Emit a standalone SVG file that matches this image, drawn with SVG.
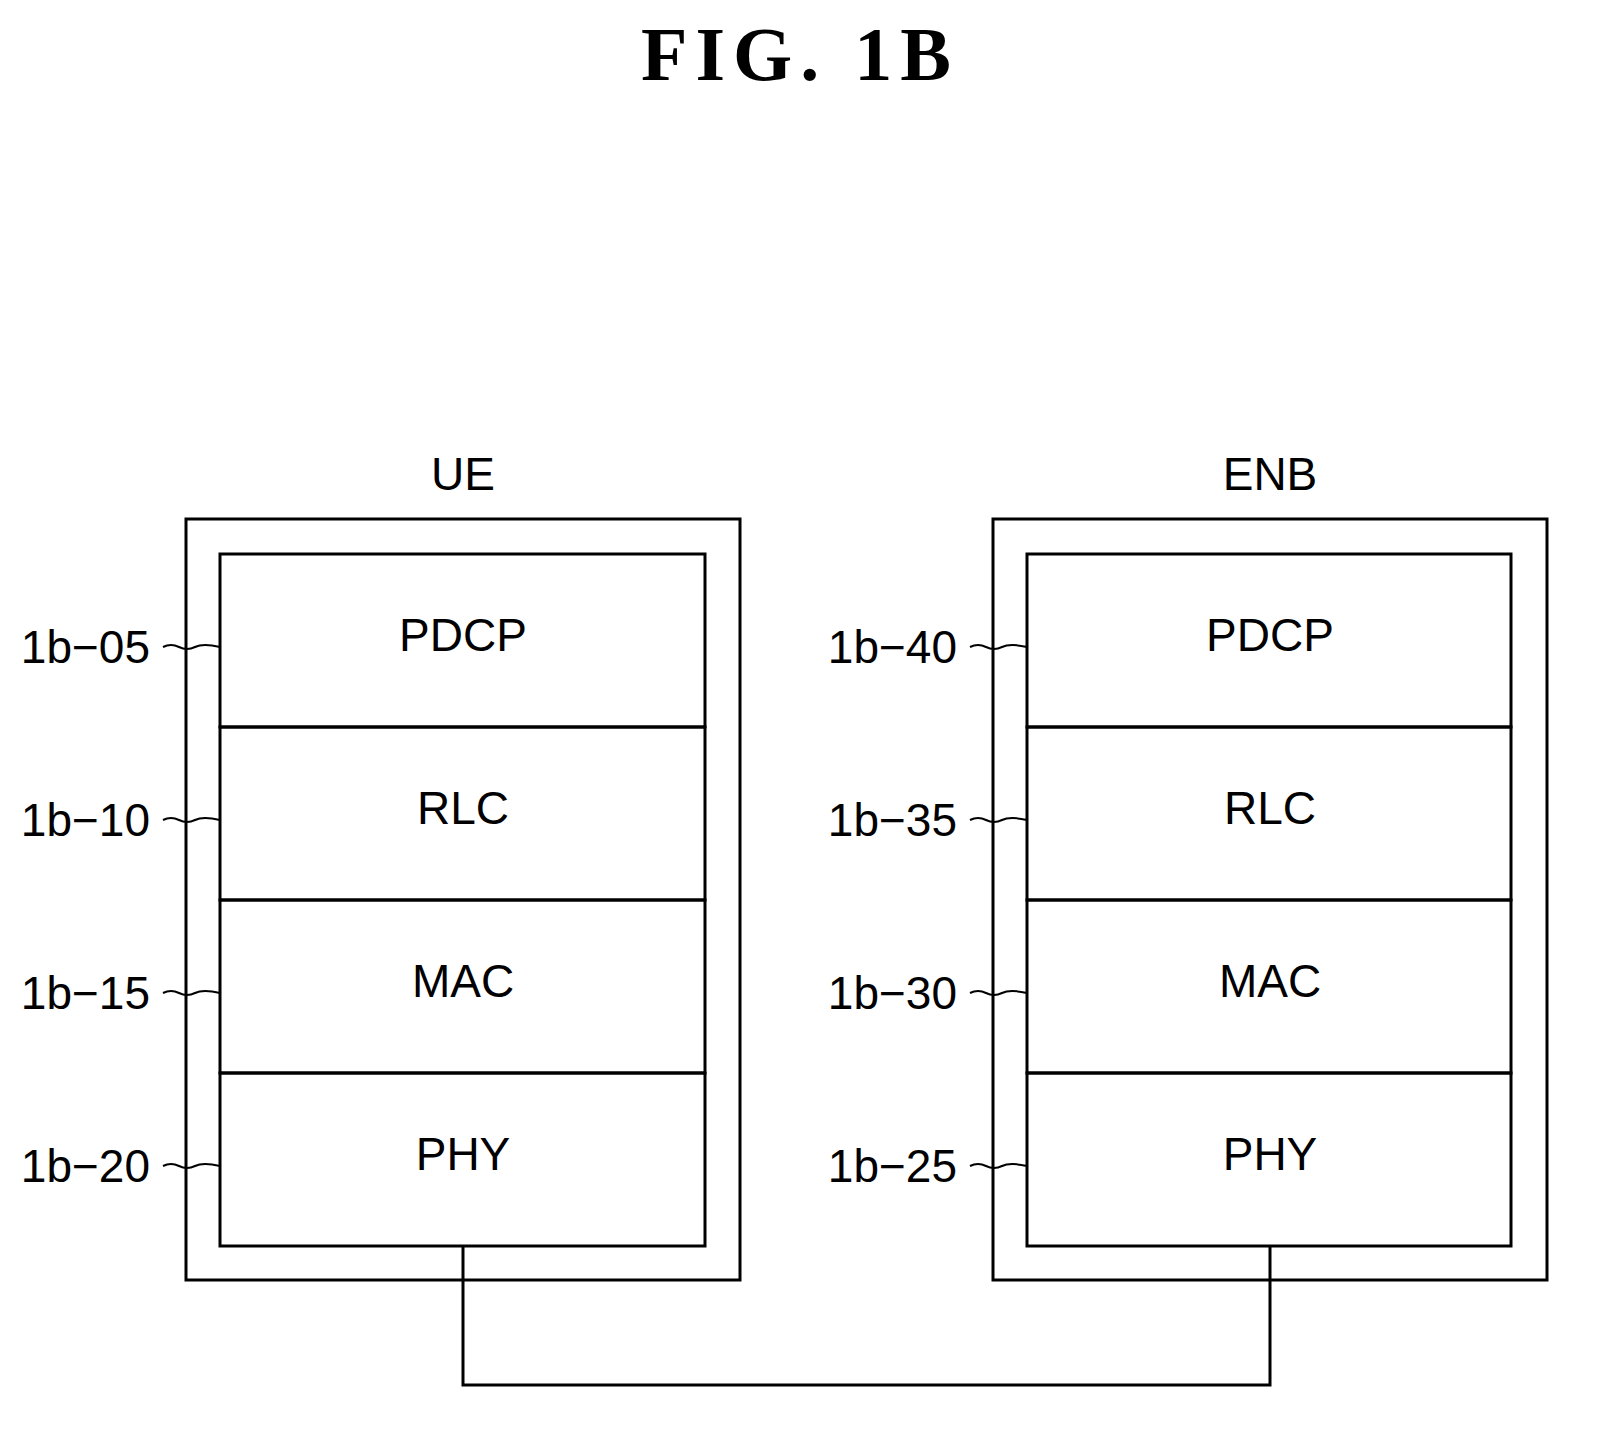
<svg xmlns="http://www.w3.org/2000/svg" width="1606" height="1440" viewBox="0 0 1606 1440">
<style>
.b{fill:none;stroke:#000;stroke-width:3}
.t{font-family:"Liberation Sans",Arial,sans-serif;font-size:46px;text-anchor:middle}
.r{font-family:"Liberation Sans",Arial,sans-serif;font-size:46px;text-anchor:end}
.l{fill:none;stroke:#000;stroke-width:2}
</style>
<rect width="1606" height="1440" fill="#fff"/>
<text x="800" y="80" font-family="Liberation Serif,serif" font-size="76" font-weight="bold" text-anchor="middle" letter-spacing="8">FIG.  1B</text>
<g id="UE">
<text class="t" x="463" y="490">UE</text>
<rect class="b" x="186" y="519" width="554" height="761"/>
</g>
<g id="ue-pdcp"><rect class="b" x="220" y="554" width="485" height="173"/><text class="t" x="463" y="651">PDCP</text><text class="r" x="150" y="663">1b−05</text><path class="l" d="M163 647 q8-4 16 0 t16 0 t25 0"/></g>
<g id="ue-rlc"><rect class="b" x="220" y="727" width="485" height="173"/><text class="t" x="463" y="824">RLC</text><text class="r" x="150" y="836">1b−10</text><path class="l" d="M163 820 q8-4 16 0 t16 0 t25 0"/></g>
<g id="ue-mac"><rect class="b" x="220" y="900" width="485" height="173"/><text class="t" x="463" y="997">MAC</text><text class="r" x="150" y="1009">1b−15</text><path class="l" d="M163 993 q8-4 16 0 t16 0 t25 0"/></g>
<g id="ue-phy"><rect class="b" x="220" y="1073" width="485" height="173"/><text class="t" x="463" y="1170">PHY</text><text class="r" x="150" y="1182">1b−20</text><path class="l" d="M163 1166 q8-4 16 0 t16 0 t25 0"/></g>
<g id="ENB">
<text class="t" x="1270" y="490">ENB</text>
<rect class="b" x="993" y="519" width="554" height="761"/>
</g>
<g id="enb-pdcp"><rect class="b" x="1027" y="554" width="484" height="173"/><text class="t" x="1270" y="651">PDCP</text><text class="r" x="957" y="663">1b−40</text><path class="l" d="M970 647 q8-4 16 0 t16 0 t25 0"/></g>
<g id="enb-rlc"><rect class="b" x="1027" y="727" width="484" height="173"/><text class="t" x="1270" y="824">RLC</text><text class="r" x="957" y="836">1b−35</text><path class="l" d="M970 820 q8-4 16 0 t16 0 t25 0"/></g>
<g id="enb-mac"><rect class="b" x="1027" y="900" width="484" height="173"/><text class="t" x="1270" y="997">MAC</text><text class="r" x="957" y="1009">1b−30</text><path class="l" d="M970 993 q8-4 16 0 t16 0 t25 0"/></g>
<g id="enb-phy"><rect class="b" x="1027" y="1073" width="484" height="173"/><text class="t" x="1270" y="1170">PHY</text><text class="r" x="957" y="1182">1b−25</text><path class="l" d="M970 1166 q8-4 16 0 t16 0 t25 0"/></g>
<g id="connectors"><path class="b" d="M463 1246 V1385 H1270 V1246"/></g>
</svg>
